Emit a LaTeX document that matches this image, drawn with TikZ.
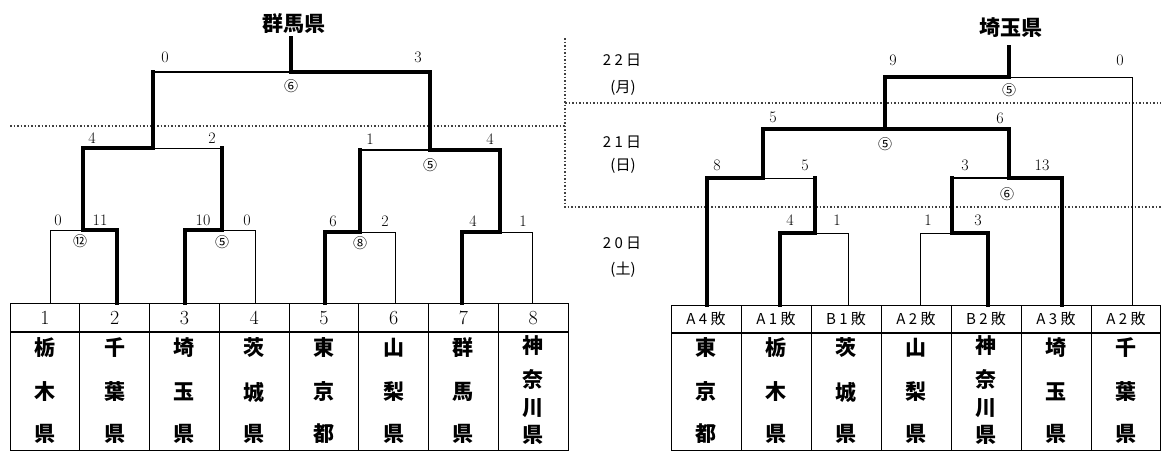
\documentclass[tikz,border=0pt]{standalone}
\usepackage{fontspec}
\newfontfamily\jp{Noto Sans CJK JP}
\begin{document}
\begin{tikzpicture}[x=1pt,y=-1pt,
  win/.style={line width=3.6pt,line cap=rect},
  lose/.style={line width=1pt},
  mid/.style={line width=2.2pt,line cap=rect},
  dotl/.style={line width=1.1pt,dash pattern=on 1.5pt off 2pt,black!75},
  tline/.style={line width=1pt},
  sc/.style={font=\fontsize{16}{16}\selectfont,inner sep=0pt},
  circ/.style={font=\jp\fontsize{14}{14}\selectfont,inner sep=0pt},
  kan/.style={font=\jp\bfseries\fontsize{21}{21}\selectfont,inner sep=0pt},
  num/.style={font=\fontsize{20}{20}\selectfont,inner sep=0pt},
  head/.style={font=\jp\fontsize{15}{15}\selectfont,inner sep=0pt},
  ttl/.style={font=\jp\bfseries\fontsize{21}{21}\selectfont,inner sep=0pt},
  datel/.style={font=\jp\fontsize{15}{15}\selectfont,inner sep=0pt}]
\useasboundingbox (0,0) rectangle (1161,453);
\fill[white] (0,0) rectangle (1161,453);

% ---------- dotted day separators ----------
\coordinate (dA) at (10,126);
\coordinate (dB) at (565,126);
\coordinate (dC) at (565,38);
\coordinate (dD) at (565,207);
\coordinate (dE) at (1161,207);
\coordinate (dF) at (565,103);
\coordinate (dG) at (1161,103);
\draw[dotl] (dA) -- (dB);
\draw[dotl] (dC) -- (dD) -- (dE);
\draw[dotl] (dF) -- (dG);

% ---------- left table ----------
\coordinate (ltA) at (10,303);
\coordinate (ltB) at (568,450);
\draw[tline] (ltA) rectangle (ltB);
\coordinate (ltC) at (10,332);
\coordinate (ltD) at (568,332);
\draw[line width=1.8pt] (ltC) -- (ltD);
\foreach \k in {1,...,7}{
  \coordinate (lsep\k) at ({10+\k*69.75},303);
  \coordinate (lsepb\k) at ({10+\k*69.75},450);
  \draw[tline] (lsep\k) -- (lsepb\k);
}
\foreach \k in {1,...,8}{
  \node[num] (lnum\k) at ({10+(\k-0.5)*69.75},318) {\k};
}
\foreach \k/\a/\b/\c in {1/栃/木/県,2/千/葉/県,3/埼/玉/県,4/茨/城/県,5/東/京/都,6/山/梨/県,7/群/馬/県}{
  \node[kan] (lka\k) at ({10+(\k-0.5)*69.75},348) {\a};
  \node[kan] (lkb\k) at ({10+(\k-0.5)*69.75},392) {\b};
  \node[kan] (lkc\k) at ({10+(\k-0.5)*69.75},434) {\c};
}
\node[kan] (lk8a) at ({10+7.5*69.75},346) {神};
\node[kan] (lk8b) at ({10+7.5*69.75},380) {奈};
\node[kan] (lk8c) at ({10+7.5*69.75},408) {川};
\node[kan] (lk8d) at ({10+7.5*69.75},435) {県};

% ---------- left bracket ----------
\coordinate (L1) at (50,303);
\coordinate (L2) at (117,303);
\coordinate (L3) at (185,303);
\coordinate (L4) at (255,303);
\coordinate (L5) at (325,303);
\coordinate (L6) at (395,303);
\coordinate (L7) at (462,303);
\coordinate (L8) at (532,303);
\coordinate (La) at (83,230);
\coordinate (Lb) at (222,230);
\coordinate (Lc) at (360,232);
\coordinate (Ld) at (500,232);
\coordinate (Le) at (153,148);
\coordinate (Lf) at (430,150);
\coordinate (Lg) at (291,72);
\coordinate (Lt) at (291,38);

\draw[lose] (L1) |- (La);
\draw[win]  (L2) |- (La);
\draw[win]  (L3) |- (Lb);
\draw[lose] (L4) |- (Lb);
\draw[win]  (L5) |- (Lc);
\draw[lose] (L6) |- (Lc);
\draw[win]  (L7) |- (Ld);
\draw[lose] (L8) |- (Ld);
\draw[win]  (La) |- (Le);
\draw[win]  (Lb) -- (Lb |- Le);
\draw[lose] (Lb |- Le) -- (Le);
\draw[win]  (Lc) -- (Lc |- Lf);
\draw[mid]  (Lc |- Lf) -- (Lf);
\draw[win]  (Ld) |- (Lf);
\draw[win]  (Le) -- (Le |- Lg);
\draw[mid]  (Le |- Lg) -- (Lg);
\draw[win]  (Lf) |- (Lg);
\draw[win]  (Lg) -- (Lt);

\node[ttl] (ltitle) at (294,24) {群馬県};
% scores left
\node[sc] (ls1) at (165,57) {0};
\node[sc] (ls2) at (418,57) {3};
\node[sc] (ls3) at (92,138) {4};
\node[sc] (ls4) at (212,138) {2};
\node[sc] (ls5) at (370,139) {1};
\node[sc] (ls6) at (490,139) {4};
\node[sc] (ls7) at (58,220) {0};
\node[sc] (ls8) at (100,220) {11};
\node[sc] (ls9) at (203,220) {10};
\node[sc] (ls10) at (247,220) {0};
\node[sc] (ls11) at (333,221) {6};
\node[sc] (ls12) at (385,221) {2};
\node[sc] (ls13) at (473,221) {4};
\node[sc] (ls14) at (523,221) {1};
% circled marks left
\node[circ] (lc1) at (291,86) {⑥};
\node[circ] (lc2) at (430,165) {⑤};
\node[circ] (lc3) at (80,241) {⑫};
\node[circ] (lc4) at (222,242) {⑤};
\node[circ] (lc5) at (360,243) {⑧};

% ---------- right date labels ----------
\node[datel] (d1a) at (622,60) {2 2 日};
\node[datel] (d1b) at (623,88) {(月)};
\node[datel] (d2a) at (622,142) {2 1 日};
\node[datel] (d2b) at (623,166) {(日)};
\node[datel] (d3a) at (622,243) {2 0 日};
\node[datel] (d3b) at (623,270) {(土)};

% ---------- right table ----------
\coordinate (rtA) at (671,305);
\coordinate (rtB) at (1160,450);
\draw[tline] (rtA) rectangle (rtB);
\coordinate (rtC) at (671,333);
\coordinate (rtD) at (1160,333);
\draw[line width=1.8pt] (rtC) -- (rtD);
\foreach \k in {1,...,6}{
  \coordinate (rsep\k) at ({671+\k*70},305);
  \coordinate (rsepb\k) at ({671+\k*70},450);
  \draw[tline] (rsep\k) -- (rsepb\k);
}
\foreach \k/\h in {1/A 4 敗,2/A 1 敗,3/B 1 敗,4/A 2 敗,5/B 2 敗,6/A 3 敗,7/A 2 敗}{
  \node[head] (rh\k) at ({671+(\k-0.5)*70},319) {\h};
}
\foreach \k/\a/\b/\c in {1/東/京/都,2/栃/木/県,3/茨/城/県,4/山/梨/県,6/埼/玉/県,7/千/葉/県}{
  \node[kan] (rka\k) at ({671+(\k-0.5)*70},348) {\a};
  \node[kan] (rkb\k) at ({671+(\k-0.5)*70},392) {\b};
  \node[kan] (rkc\k) at ({671+(\k-0.5)*70},434) {\c};
}
\node[kan] (rk5a) at ({671+4.5*70},346) {神};
\node[kan] (rk5b) at ({671+4.5*70},380) {奈};
\node[kan] (rk5c) at ({671+4.5*70},408) {川};
\node[kan] (rk5d) at ({671+4.5*70},435) {県};

% ---------- right bracket ----------
\coordinate (R1) at (707,305);
\coordinate (R2) at (780,305);
\coordinate (R3) at (848,305);
\coordinate (R4) at (920,305);
\coordinate (R5) at (988,305);
\coordinate (R6) at (1062,305);
\coordinate (R7) at (1132,305);
\coordinate (Ra) at (815,233);
\coordinate (Rb) at (952,233);
\coordinate (Rc) at (763,178);
\coordinate (Rd) at (1009,178);
\coordinate (Re) at (885,129);
\coordinate (Rf) at (1009,77);
\coordinate (Rt) at (1009,47);

\draw[win]  (R2) |- (Ra);
\draw[lose] (R3) |- (Ra);
\draw[lose] (R4) |- (Rb);
\draw[win]  (R5) |- (Rb);
\draw[win]  (R1) |- (Rc);
\draw[win]  (Ra) -- (Ra |- Rc);
\draw[lose] (Ra |- Rc) -- (Rc);
\draw[win]  (Rb) -- (Rb |- Rd);
\draw[mid]  (Rb |- Rd) -- (Rd);
\draw[win]  (R6) |- (Rd);
\draw[win]  (Rc) |- (Re);
\draw[win]  (Rd) |- (Re);
\draw[win]  (Re) |- (Rf);
\draw[lose] (R7) |- (Rf);
\draw[win]  (Rf) -- (Rt);

\node[ttl] (rtitle) at (1011,28) {埼玉県};
% scores right
\node[sc] (rs1) at (893,60) {9};
\node[sc] (rs2) at (1120,60) {0};
\node[sc] (rs3) at (773,117) {5};
\node[sc] (rs4) at (1000,118) {6};
\node[sc] (rs5) at (717,165) {8};
\node[sc] (rs6) at (805,165) {5};
\node[sc] (rs7) at (965,165) {3};
\node[sc] (rs8) at (1042,165) {13};
\node[sc] (rs9) at (790,220) {4};
\node[sc] (rs10) at (837,220) {1};
\node[sc] (rs11) at (928,220) {1};
\node[sc] (rs12) at (978,220) {3};
% circled marks right
\node[circ] (rc1) at (1009,90) {⑤};
\node[circ] (rc2) at (885,144) {⑤};
\node[circ] (rc3) at (1007,194) {⑥};
\end{tikzpicture}
\end{document}
